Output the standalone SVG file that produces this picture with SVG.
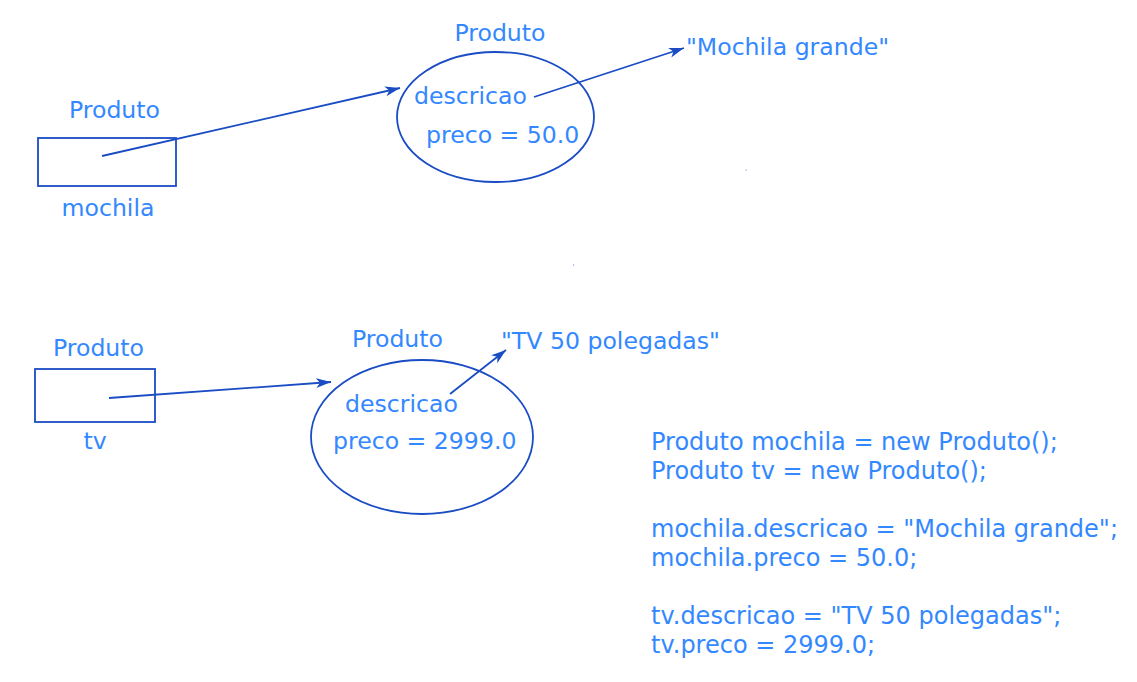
<svg xmlns="http://www.w3.org/2000/svg" width="1137" height="682" viewBox="0 0 1137 682">
<style>
text{font-family:"DejaVu Sans",Verdana,sans-serif;font-size:23.6px;fill:#3388ff}
.code{font-size:24px}
.mid{text-anchor:middle}
.shape{fill:none;stroke:#1a4cc4;stroke-width:1.8}
.conn{fill:none;stroke:#1a4cc4;stroke-width:1.8;marker-end:url(#arr)}
</style>
<defs>
<marker id="arr" markerUnits="userSpaceOnUse" markerWidth="16" markerHeight="11" refX="15" refY="5" orient="auto">
<path d="M0,0 L15,5 L0,10 L4,5 Z" fill="#1a4cc4"/>
</marker>
</defs>
<rect width="1137" height="682" fill="#ffffff"/>
<g id="var-mochila">
<rect class="shape" x="38" y="138" width="138" height="48"/>
<text class="mid" x="114.5" y="118">Produto</text>
<text class="mid" x="108" y="216">mochila</text>
</g>
<g id="obj-mochila">
<ellipse class="shape" cx="495.5" cy="117" rx="98.5" ry="65"/>
<text class="mid" x="500" y="41">Produto</text>
<text x="414" y="104">descricao</text>
<text x="426" y="143">preco = 50.0</text>
</g>
<g id="str-mochila">
<text x="686" y="55">"Mochila grande"</text>
</g>
<g id="var-tv">
<rect class="shape" x="35" y="369" width="120" height="53"/>
<text class="mid" x="98.5" y="356">Produto</text>
<text class="mid" x="95" y="449">tv</text>
</g>
<g id="obj-tv">
<ellipse class="shape" cx="422" cy="437" rx="111" ry="77"/>
<text class="mid" x="397.5" y="347">Produto</text>
<text x="345" y="412">descricao</text>
<text x="333" y="449">preco = 2999.0</text>
</g>
<g id="str-tv">
<text x="501" y="349">"TV 50 polegadas"</text>
</g>
<g id="code">
<text class="code" x="651" y="450">Produto mochila = new Produto();</text>
<text class="code" x="651" y="479">Produto tv = new Produto();</text>
<text class="code" x="651" y="537">mochila.descricao = "Mochila grande";</text>
<text class="code" x="651" y="566">mochila.preco = 50.0;</text>
<text class="code" x="651" y="624">tv.descricao = "TV 50 polegadas";</text>
<text class="code" x="651" y="653">tv.preco = 2999.0;</text>
</g>
<g id="connectors">
<line class="conn" x1="102" y1="156" x2="400" y2="88"/>
<line class="conn" x1="534" y1="97" x2="684" y2="48"/>
<line class="conn" x1="109" y1="398" x2="331" y2="382"/>
<line class="conn" x1="450" y1="394" x2="506" y2="350"/>
</g>
<rect x="745.5" y="169.5" width="1.2" height="1.2" fill="#7aa6e6"/>
<rect x="573" y="264.5" width="1.2" height="1.2" fill="#7aa6e6"/>
</svg>
